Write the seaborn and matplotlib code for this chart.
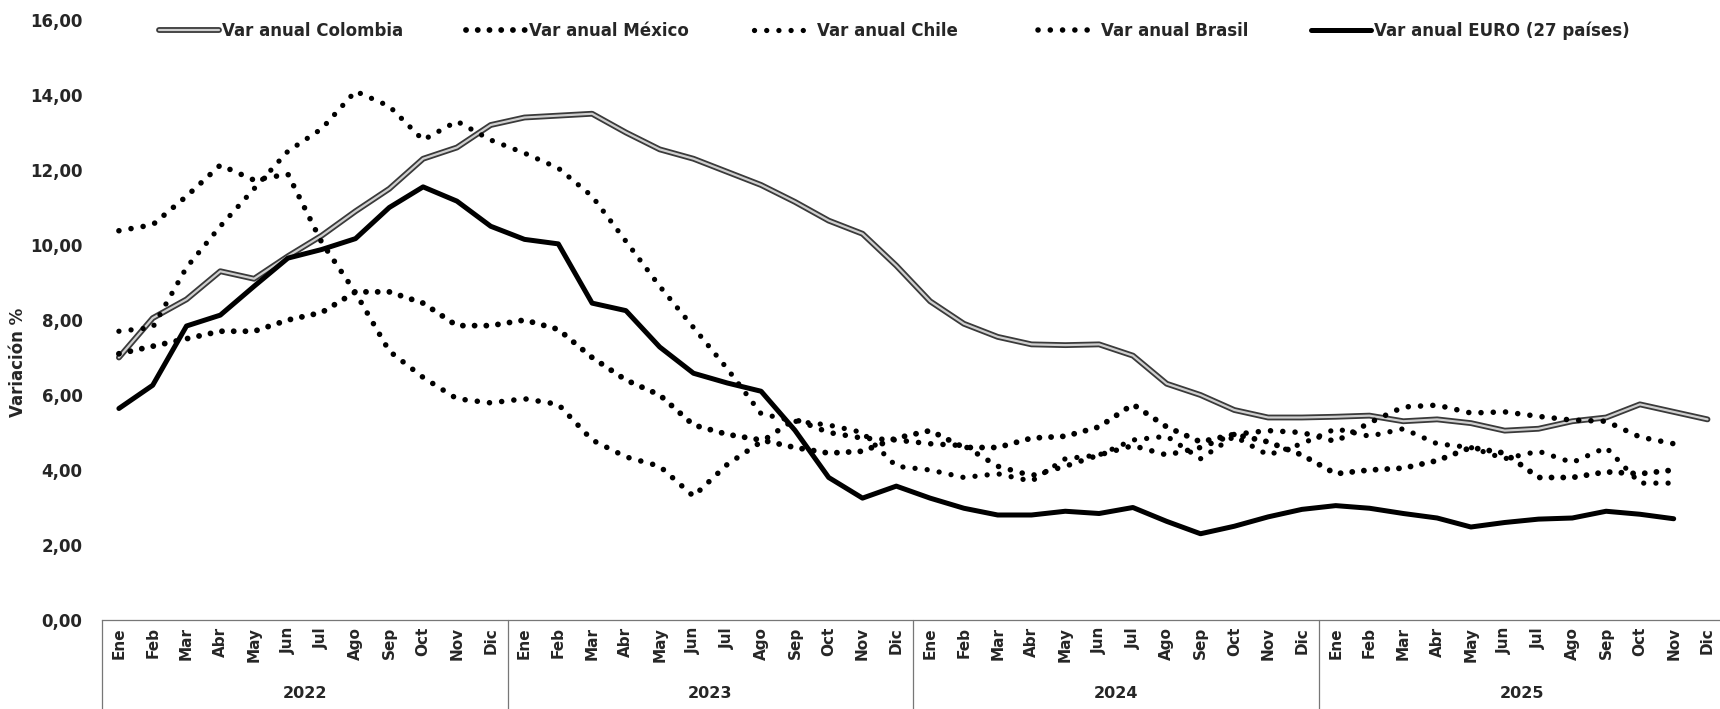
import matplotlib
matplotlib.use("Agg")
import pandas as pd
import seaborn as sns
from matplotlib import pyplot as plt
from matplotlib import patheffects as pe
from matplotlib.lines import Line2D

# month / year categories (multi-level axis)
months = ["Ene", "Feb", "Mar", "Abr", "May", "Jun", "Jul", "Ago", "Sep", "Oct", "Nov", "Dic"]
years = ["2022", "2023", "2024", "2025"]

# annual variation (%)
colombia = [7.0, 8.05, 8.55, 9.3, 9.1, 9.7, 10.25, 10.9, 11.5, 12.3, 12.6, 13.2,
            13.4, 13.45, 13.5, 13.0, 12.55, 12.3, 11.95, 11.6, 11.15, 10.65, 10.3, 9.45,
            8.5, 7.9, 7.55, 7.35, 7.33, 7.35, 7.05, 6.3, 6.0, 5.6, 5.4, 5.4,
            5.42, 5.45, 5.3, 5.35, 5.25, 5.05, 5.1, 5.3, 5.4, 5.75, 5.55, 5.35]
mexico = [7.1, 7.3, 7.5, 7.7, 7.7, 8.0, 8.2, 8.75, 8.75, 8.45, 7.85, 7.85,
          8.0, 7.75, 7.0, 6.4, 6.0, 5.2, 4.95, 4.8, 4.6, 4.45, 4.5, 4.85,
          5.05, 4.6, 4.6, 4.85, 4.9, 5.15, 5.75, 5.15, 4.75, 4.95, 4.75, 4.4,
          3.9, 4.0, 4.05, 4.25, 4.6, 4.45, 3.8, 3.8, 3.95, 3.9, 4.0]
chile = [7.7, 7.8, 9.4, 10.5, 11.5, 12.5, 13.1, 14.1, 13.7, 12.8, 13.3, 12.8,
         12.45, 12.05, 11.3, 10.1, 8.9, 7.8, 6.7, 5.5, 5.3, 5.2, 5.0, 4.1,
         4.0, 3.8, 3.9, 3.7, 4.3, 4.4, 4.8, 4.9, 4.3, 4.9, 4.4, 4.7,
         5.1, 4.9, 5.1, 4.7, 4.6, 4.3, 4.5, 4.2, 4.6, 3.65, 3.65]
brasil = [10.38, 10.54, 11.30, 12.13, 11.73, 11.89, 10.07, 8.73, 7.17, 6.47, 5.90, 5.79,
          5.9, 5.75, 4.8, 4.35, 4.1, 3.3, 4.15, 4.75, 5.35, 5.0, 4.85, 4.8,
          4.7, 4.65, 4.1, 3.85, 4.1, 4.4, 4.65, 4.4, 4.6, 4.95, 5.05, 5.0,
          4.76, 5.26, 5.68, 5.73, 5.52, 5.55, 5.43, 5.33, 5.3, 4.88, 4.7]
euro = [5.64, 6.26, 7.84, 8.13, 8.9, 9.65, 9.88, 10.17, 11.0, 11.55, 11.17, 10.5,
        10.15, 10.03, 8.45, 8.25, 7.28, 6.58, 6.32, 6.1, 5.06, 3.8, 3.25, 3.57,
        3.25, 2.98, 2.8, 2.8, 2.9, 2.84, 3.0, 2.63, 2.3, 2.5, 2.75, 2.95,
        3.05, 2.98, 2.84, 2.72, 2.48, 2.6, 2.69, 2.72, 2.9, 2.82, 2.7]

series = {
    "Var anual Colombia": colombia,
    "Var anual México": mexico,
    "Var anual Chile": chile,
    "Var anual Brasil": brasil,
    "Var anual EURO (27 países)": euro,
}

dfs = []
for name, vals in series.items():
    dfs.append(pd.DataFrame({"mes": range(len(vals)), "valor": vals, "serie": name}))
df = pd.concat(dfs, ignore_index=True)

sns.set_style("white")
plt.rcParams["font.family"] = ["DejaVu Sans"]
plt.rcParams["font.weight"] = "bold"

W, H = 1720, 709
fig = plt.figure(figsize=(W / 100, H / 100), dpi=100)
left, right, y0, y16 = 102, 1720, 620, 20
ax = fig.add_axes([left / W, 1 - y0 / H, (right - left) / W, (y0 - y16) / H])

styles = {
    "Var anual Colombia": dict(color="#cfcfcf", linewidth=1.6, solid_capstyle="round"),
    "Var anual México": dict(color="black", linewidth=4.2, linestyle=(0, (0.01, 2.0)),
                             dash_capstyle="round"),
    "Var anual Chile": dict(color="black", linewidth=3.8, linestyle=(0, (0.01, 2.3)),
                            dash_capstyle="round"),
    "Var anual Brasil": dict(color="black", linewidth=4.0, linestyle=(0, (0.01, 2.2)),
                             dash_capstyle="round"),
    "Var anual EURO (27 países)": dict(color="black", linewidth=3.6, solid_joinstyle="round",
                                       solid_capstyle="round"),
}
col_fx = [pe.Stroke(linewidth=4.2, foreground="#3a3a3a"), pe.Normal()]

handles = []
for name in series:
    d = df[df.serie == name]
    sns.lineplot(data=d, x="mes", y="valor", ax=ax, errorbar=None, legend=False, **styles[name])
    line = ax.lines[-1]
    h = Line2D([0], [0], **styles[name])
    if name == "Var anual Colombia":
        line.set_path_effects(col_fx)
        h.set_path_effects(col_fx)
    handles.append(h)

ax.set_xlim(-0.5, -0.5 + (right - left) / 33.8)
ax.set_ylim(0, 16)
ax.set_yticks(range(0, 17, 2))
ax.set_yticklabels([f"{v:.2f}".replace(".", ",") for v in range(0, 17, 2)], fontsize=12,
                   fontweight="bold")
ax.set_xticks(range(48))
ax.set_xticklabels(months * 4, rotation=90, va="top", ha="center", fontsize=11,
                   fontweight="bold")
ax.tick_params(axis="y", length=0, pad=14)
ax.tick_params(axis="x", length=0, pad=5)
ax.set_xlabel("")
ax.set_ylabel("")
for s in ["top", "right", "left"]:
    ax.spines[s].set_visible(False)
ax.spines["bottom"].set_color("#777777")
ax.spines["bottom"].set_linewidth(0.9)

# year group separators and labels
tr = ax.get_xaxis_transform()
for k in range(4):
    ax.plot([k * 12 - 0.5] * 2, [0, -0.16], transform=tr, clip_on=False,
            color="#777777", lw=0.9)
    ax.text(k * 12 + 5.5, -0.122, years[k], transform=tr, ha="center", va="center",
            fontsize=11.5, fontweight="bold")

fig.text(18 / W, 1 - 362 / H, "Variación %", rotation=90, ha="center", va="center",
         fontsize=12, fontweight="bold")

# legend entries placed one by one across the top
legend_x = [159, 466, 754, 1038, 1311]
for h, lab, lx in zip(handles, series.keys(), legend_x):
    fig.legend([h], [lab], loc="center left", bbox_to_anchor=(lx / W, 1 - 31 / H),
               frameon=False, handlelength=3.6, handletextpad=0.2, borderpad=0,
               borderaxespad=0, prop=dict(weight="bold", size=12))

fig.savefig("out.png", dpi=100, facecolor="white")
